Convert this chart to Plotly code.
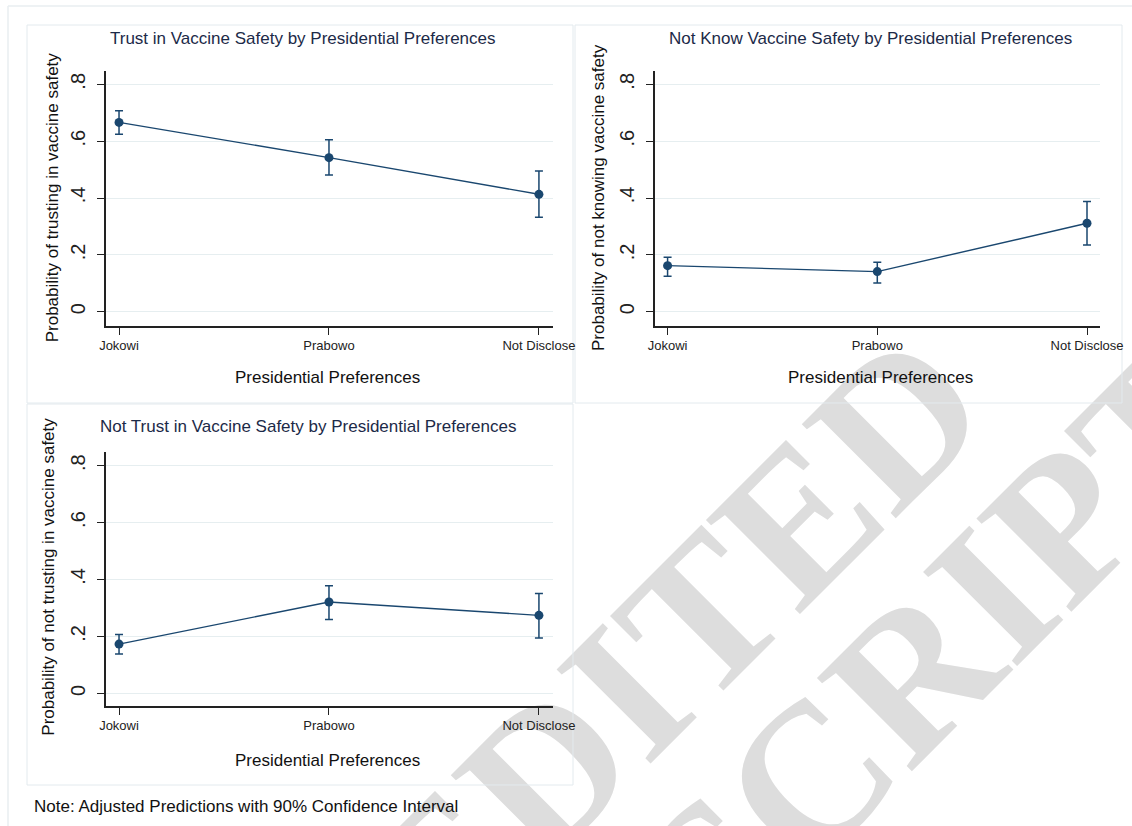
import plotly.graph_objects as go

# Presidential preference groups
categories = ["Jokowi", "Prabowo", "Not Disclose"]

# Adjusted predictions with 90% confidence bounds
trust = [0.666, 0.542, 0.413]
trust_lo = [0.624, 0.481, 0.332]
trust_hi = [0.707, 0.605, 0.495]

not_know = [0.162, 0.141, 0.311]
not_know_lo = [0.125, 0.101, 0.235]
not_know_hi = [0.192, 0.174, 0.388]

not_trust = [0.173, 0.321, 0.274]
not_trust_lo = [0.138, 0.259, 0.194]
not_trust_hi = [0.207, 0.378, 0.351]

y_tickvals = [0, 0.2, 0.4, 0.6, 0.8]
y_ticktext = ["0", ".2", ".4", ".6", ".8"]

W, H = 1132, 826
NAVY = "#1a476f"
FONT = "Liberation Sans, Arial, sans-serif"


def px(x):
    return x / W


def py(y):
    return 1 - y / H


fig = go.Figure()

panels = [
    (trust, trust_lo, trust_hi, "x", "y"),
    (not_know, not_know_lo, not_know_hi, "x2", "y2"),
    (not_trust, not_trust_lo, not_trust_hi, "x3", "y3"),
]
for vals, lo, hi, xa, ya in panels:
    fig.add_trace(go.Scatter(
        x=categories, y=vals, xaxis=xa, yaxis=ya,
        mode="lines+markers",
        line=dict(color=NAVY, width=1.4),
        marker=dict(color=NAVY, size=9, symbol="circle"),
        error_y=dict(
            type="data", symmetric=False,
            array=[h - v for h, v in zip(hi, vals)],
            arrayminus=[v - l for v, l in zip(vals, lo)],
            color=NAVY, thickness=1.5, width=4,
        ),
        showlegend=False, hoverinfo="skip",
    ))

axis_common = dict(
    showline=True, linecolor="#222222", linewidth=1.6,
    ticks="outside", ticklen=7, tickwidth=1.4, tickcolor="#222222",
    zeroline=False, fixedrange=True, automargin=False,
)
xaxis_common = dict(axis_common, showgrid=False, type="category",
                    tickfont=dict(family=FONT, size=13, color="#222222"))
yaxis_common = dict(axis_common, showgrid=True, gridcolor="#e6eef0", gridwidth=1,
                    tickvals=y_tickvals, ticktext=y_ticktext, tickangle=-90,
                    ticklabelstandoff=4,
                    tickfont=dict(family=FONT, size=20, color="#222222"))

fig.update_layout(
    width=W, height=H, autosize=False,
    margin=dict(l=0, r=0, t=0, b=0, pad=0),
    paper_bgcolor="white", plot_bgcolor="rgba(0,0,0,0)",
    xaxis=dict(xaxis_common, domain=[px(106), px(553)], anchor="y", range=[-0.062, 2.067]),
    yaxis=dict(yaxis_common, domain=[py(326), py(71)], anchor="x", range=[-0.0503, 0.8468]),
    xaxis2=dict(xaxis_common, domain=[px(655), px(1100)], anchor="y2", range=[-0.06, 2.062]),
    yaxis2=dict(yaxis_common, domain=[py(326), py(71)], anchor="x2", range=[-0.0503, 0.8468]),
    xaxis3=dict(xaxis_common, domain=[px(106), px(553)], anchor="y3", range=[-0.062, 2.067]),
    yaxis3=dict(yaxis_common, domain=[py(706), py(451.7)], anchor="x3", range=[-0.0446, 0.849]),
)

shapes = []
# diagonal watermark, underneath the panels
for word, cx, cy in [("UNEDITED", 554, 732), ("MANUSCRIPT", 701, 854)]:
    shapes.append(dict(
        type="line", xref="paper", yref="paper",
        x0=px(cx - 1), x1=px(cx + 1), y0=py(cy + 1), y1=py(cy - 1),
        line=dict(color="rgba(0,0,0,0)", width=1), layer="below",
        label=dict(text=word, textangle=-45, textposition="middle",
                   xanchor="center", yanchor="middle", padding=0,
                   font=dict(family="Liberation Serif, Times New Roman, serif",
                             size=203, color="#dddddd", weight="bold")),
    ))
# outer frame
shapes.append(dict(type="line", xref="paper", yref="paper", x0=px(8), x1=1, y0=py(6), y1=py(6),
                   line=dict(color="#e8eef1", width=1.5), layer="below"))
shapes.append(dict(type="line", xref="paper", yref="paper", x0=px(8), x1=px(8), y0=py(6), y1=0,
                   line=dict(color="#e8eef1", width=1.5), layer="below"))
# panel boxes
for x0, y0, x1, y1 in [(27, 25, 573, 403), (575, 25, 1122, 403), (27, 404, 573, 785)]:
    shapes.append(dict(type="rect", xref="paper", yref="paper",
                       x0=px(x0), x1=px(x1), y0=py(y1), y1=py(y0),
                       line=dict(color="#e3eaee", width=1), fillcolor="rgba(0,0,0,0)",
                       layer="below"))
fig.update_layout(shapes=shapes)

ann = []
title_font = dict(family=FONT, size=17, color="#1c2a48")
label_font = dict(family=FONT, size=17, color="#111111")
for text, x, y in [
    ("Trust in Vaccine Safety by Presidential Preferences", 303, 38.5),
    ("Not Know Vaccine Safety by Presidential Preferences", 870, 38.5),
    ("Not Trust in Vaccine Safety by Presidential Preferences", 308, 426.5),
]:
    ann.append(dict(text=text, x=px(x), y=py(y), xref="paper", yref="paper",
                    xanchor="center", yanchor="middle", showarrow=False, font=title_font))
for x, y in [(327.6, 377.7), (880, 377.7), (327.6, 760.7)]:
    ann.append(dict(text="Presidential Preferences", x=px(x), y=py(y), xref="paper", yref="paper",
                    xanchor="center", yanchor="middle", showarrow=False, font=label_font))
for text, x, y in [
    ("Probability of trusting in vaccine safety", 52.5, 197.8),
    ("Probability of not knowing vaccine safety", 598, 198),
    ("Probability of not trusting in vaccine safety", 49, 576.7),
]:
    ann.append(dict(text=text, x=px(x), y=py(y), xref="paper", yref="paper", textangle=-90,
                    xanchor="center", yanchor="middle", showarrow=False, font=label_font))
ann.append(dict(text="Note: Adjusted Predictions with 90% Confidence Interval",
                x=px(32), y=py(806), xref="paper", yref="paper",
                xanchor="left", yanchor="middle", showarrow=False, font=label_font))
fig.update_layout(annotations=ann)

fig.write_html("out.html")
